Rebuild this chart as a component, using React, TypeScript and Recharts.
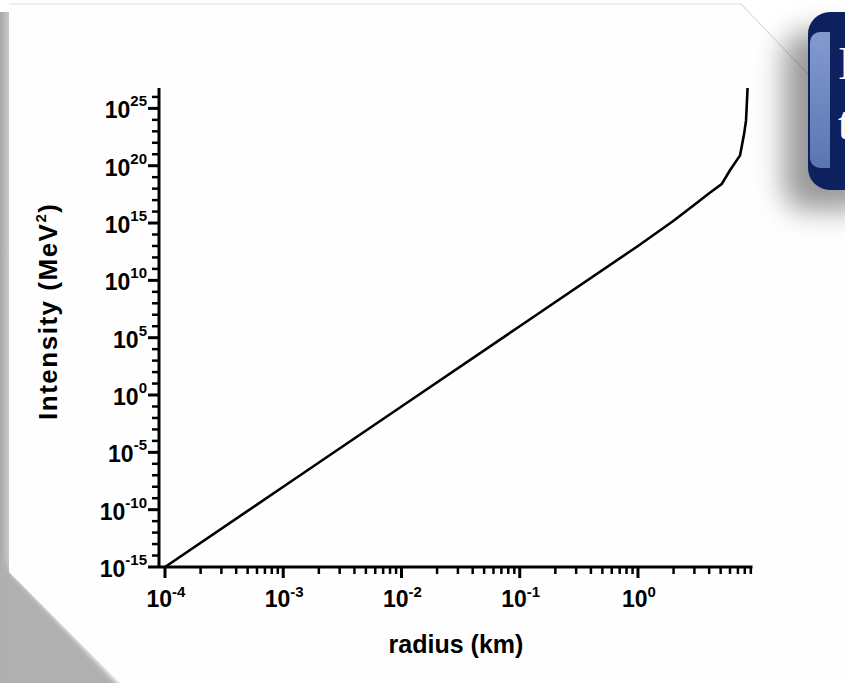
import { LineChart, Line, XAxis, YAxis, Label } from "recharts";

// radius (km) vs intensity (MeV^2)
const radius = [1e-4, 1e-3, 1e-2, 1e-1, 1, 2, 3, 4, 5.1, 6, 7.3, 7.9, 8.2, 8.45];
const intensity = [
  1e-15, 1e-8, 1e-1, 1e6, 1e13, 1.6e15, 4e16, 4e17, 2.5e18, 4e19, 8e20, 6e22,
  9e23, 6e26,
];

const xMajor = [-4, -3, -2, -1, 0];
const yMajor = [-15, -10, -5, 0, 5, 10, 15, 20, 25];

const data = radius.map((r, i) => ({ r, v: intensity[i] }));

// minor ticks: 2..9 within each decade
const xTicks: number[] = [];
for (let d = -4; d <= 0; d++) {
  for (let m = 1; m <= 9; m++) xTicks.push(m * Math.pow(10, d));
}
const yTicks: number[] = [];
for (let d = -15; d <= 26; d++) yTicks.push(Math.pow(10, d));

const FONT = "'Liberation Sans', Arial, sans-serif";
const PLOT_LEFT = 159;
const PLOT_BOTTOM = 567;

const expOf = (v: number) => Math.round(Math.log10(v));
const isPow = (v: number) => Math.abs(Math.log10(v) - expOf(v)) < 1e-6;

const XTick = (props: any) => {
  const { x, payload } = props;
  const v = payload.value;
  const major = isPow(v) && xMajor.includes(expOf(v));
  return (
    <g>
      <line
        x1={x}
        x2={x}
        y1={PLOT_BOTTOM}
        y2={PLOT_BOTTOM + (major ? 11 : 7)}
        stroke="#000"
        strokeWidth={major ? 3 : 2.5}
      />
      {major && (
        <text
          x={x + 1}
          y={607}
          textAnchor="middle"
          fontFamily={FONT}
          fontWeight="bold"
          fontSize={23}
          fill="#000"
        >
          10
          <tspan dy={-10} fontSize={15}>
            {expOf(v)}
          </tspan>
        </text>
      )}
    </g>
  );
};

const YTick = (props: any) => {
  const { y, payload } = props;
  const e = expOf(payload.value);
  const major = yMajor.includes(e);
  return (
    <g>
      <line
        x1={PLOT_LEFT}
        x2={PLOT_LEFT - (major ? 11 : 7)}
        y1={y}
        y2={y}
        stroke="#000"
        strokeWidth={major ? 3 : 2.5}
      />
      {major && (
        <text
          x={147}
          y={y + 10}
          textAnchor="end"
          fontFamily={FONT}
          fontWeight="bold"
          fontSize={23}
          fill="#000"
        >
          10
          <tspan dy={-12} fontSize={15}>
            {e}
          </tspan>
        </text>
      )}
    </g>
  );
};

function Backdrop() {
  return (
    <svg
      width={845}
      height={683}
      style={{ position: "absolute", left: 0, top: 0 }}
    >
      <defs>
        <linearGradient id="leftStrip" x1="0" x2="1" y1="0" y2="0">
          <stop offset="0" stopColor="#a8a8a8" />
          <stop offset="1" stopColor="#cfcfcf" />
        </linearGradient>
        <filter id="soft" x="-20%" y="-20%" width="140%" height="140%">
          <feGaussianBlur stdDeviation="2.5" />
        </filter>
      </defs>
      <rect x={0} y={0} width={845} height={683} fill="#ffffff" />
      <rect x={0} y={12} width={11} height={671} fill="url(#leftStrip)" />
      <polygon
        points="0,555 9,570 124,690 0,690"
        fill="#b0b0b0"
        filter="url(#soft)"
      />
      <polygon
        points="9,4 741,4 845,112 845,683 120,683 9,572"
        fill="#fefefe"
      />
      <line x1={9} y1={4} x2={741} y2={4} stroke="#dcdcdc" strokeWidth={1} />
      <line x1={741} y1={4} x2={810} y2={76} stroke="#cfcfcf" strokeWidth={1} />
    </svg>
  );
}

function TitleBox() {
  return (
    <div
      style={{
        position: "absolute",
        left: 808,
        top: 12,
        width: 90,
        height: 178,
        borderRadius: 22,
        background: "#0c215e",
        boxShadow: "-24px 20px 28px rgba(0,0,0,0.4)",
        overflow: "hidden",
      }}
    >
      <div
        style={{
          position: "absolute",
          left: 2,
          top: 20,
          width: 20,
          height: 136,
          borderRadius: "10px 0 0 10px",
          background: "linear-gradient(180deg, #829bcf, #5a76b2)",
        }}
      />
      <div
        style={{
          position: "absolute",
          left: 30,
          top: 22,
          color: "#ffffff",
          fontFamily: "'Liberation Serif', 'Times New Roman', serif",
          fontSize: 46,
          lineHeight: "60px",
          whiteSpace: "nowrap",
        }}
      >
        Intensity
        <br />
        the
      </div>
    </div>
  );
}

export default function App() {
  return (
    <div
      style={{
        position: "fixed",
        left: 0,
        top: 0,
        width: 845,
        height: 683,
        overflow: "hidden",
        background: "#fff",
      }}
    >
      <Backdrop />
      <TitleBox />
      <div style={{ position: "absolute", left: 0, top: 0 }}>
        <LineChart
          width={845}
          height={683}
          data={data}
          margin={{ top: 88, right: 92.5, left: 59, bottom: 56 }}
        >
          <XAxis
            dataKey="r"
            type="number"
            scale="log"
            domain={[8.9e-5, 9.3]}
            allowDataOverflow
            ticks={xTicks}
            interval={0}
            height={60}
            tickLine={false}
            axisLine={{ stroke: "#000", strokeWidth: 3 }}
            tick={<XTick />}
          >
            <Label
              content={() => (
                <text
                  x={456}
                  y={653}
                  textAnchor="middle"
                  fontFamily={FONT}
                  fontWeight="bold"
                  fontSize={25}
                  fill="#000"
                >
                  radius (km)
                </text>
              )}
            />
          </XAxis>
          <YAxis
            type="number"
            scale="log"
            domain={[1e-15, 6e26]}
            allowDataOverflow
            ticks={yTicks}
            interval={0}
            width={100}
            tickLine={false}
            axisLine={{ stroke: "#000", strokeWidth: 3 }}
            tick={<YTick />}
          >
            <Label
              content={() => (
                <text
                  x={57}
                  y={312}
                  transform="rotate(-90 57 312)"
                  textAnchor="middle"
                  fontFamily={FONT}
                  fontWeight="bold"
                  fontSize={26}
                  fill="#000"
                  textLength={216}
                  lengthAdjust="spacing"
                >
                  Intensity (MeV
                  <tspan dy={-11} fontSize={15}>
                    2
                  </tspan>
                  <tspan dy={11}>)</tspan>
                </text>
              )}
            />
          </YAxis>
          <Line
            dataKey="v"
            type="linear"
            stroke="#000"
            strokeWidth={2.6}
            dot={false}
            isAnimationActive={false}
          />
        </LineChart>
      </div>
    </div>
  );
}
